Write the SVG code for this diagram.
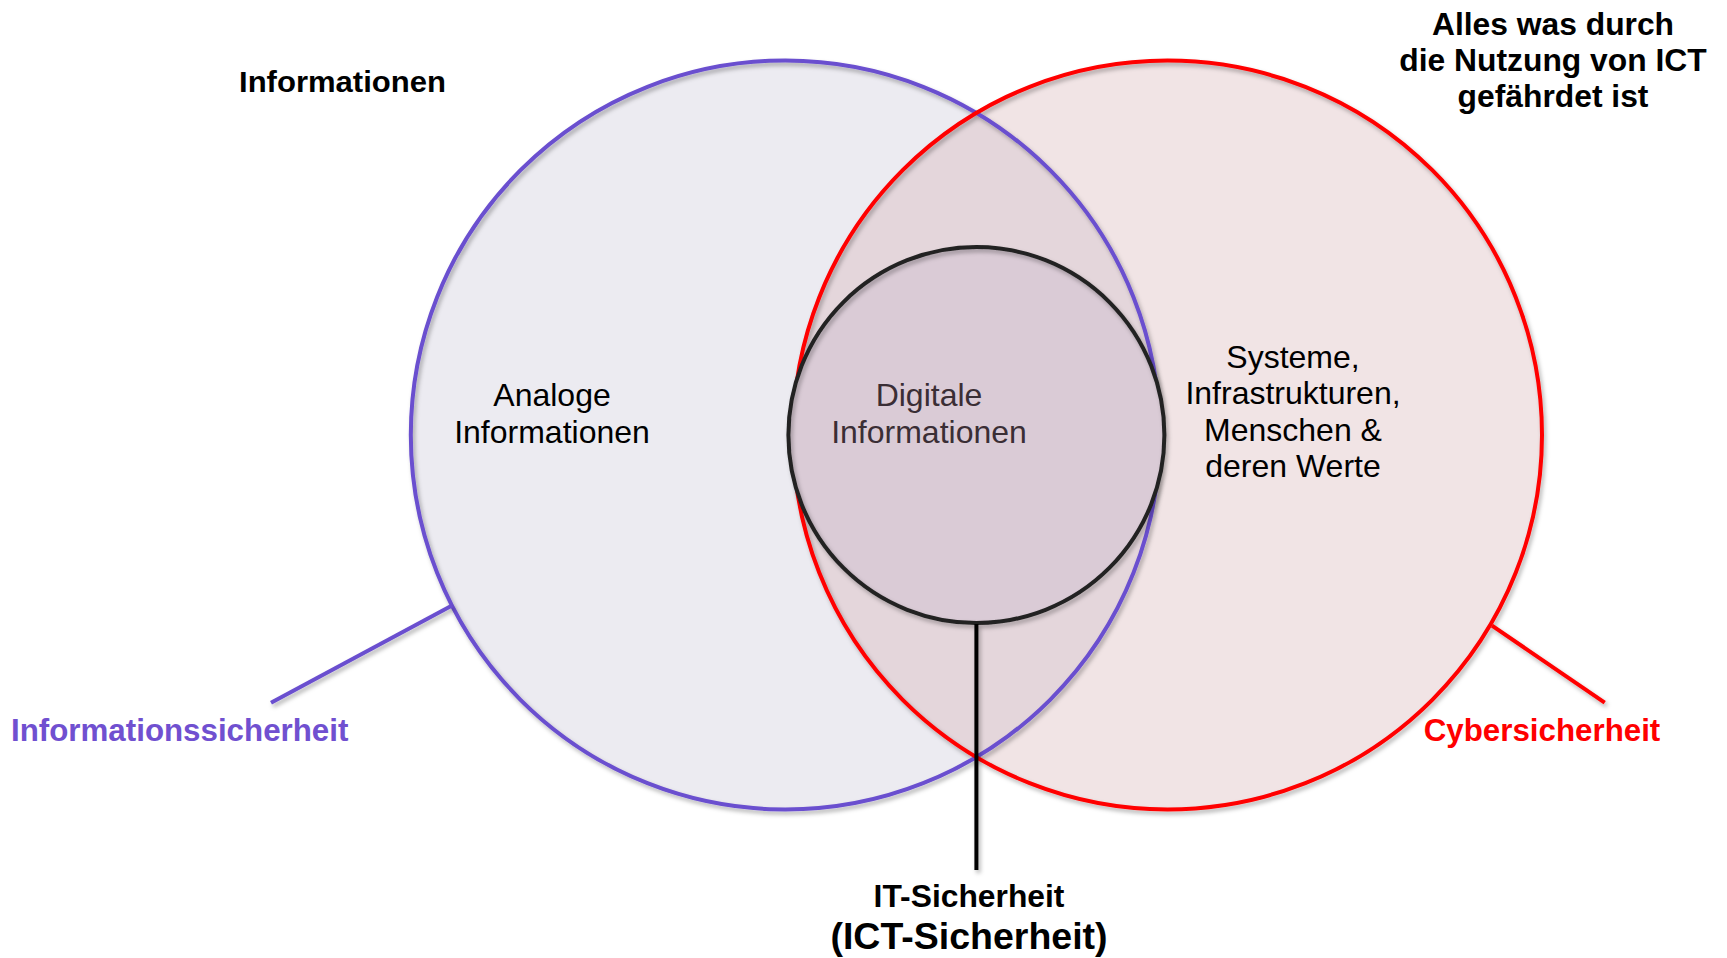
<svg xmlns="http://www.w3.org/2000/svg" width="1727" height="958" viewBox="0 0 1727 958">
  <defs>
    <filter id="sh" x="-10%" y="-10%" width="120%" height="120%">
      <feDropShadow dx="2" dy="3" stdDeviation="2" flood-color="#000" flood-opacity="0.3"/>
    </filter>
  </defs>
  <style>
    text { font-family: "Liberation Sans", Arial, sans-serif; }
    .b { font-weight: bold; }
    .lbl { font-size: 32px; fill: #000; text-anchor: middle; }
    .hd { font-size: 31.8px; font-weight: bold; fill: #000; text-anchor: middle; }
    .circ { stroke-width: 4; fill: none; }
  </style>
  <rect width="1727" height="958" fill="#fff"/>

  <g id="informationssicherheit">
    <circle cx="785.3" cy="435" r="374.5" fill="#ecebf1"/>
  </g>
  <g id="cybersicherheit">
    <circle cx="1167.5" cy="435" r="374.5" fill="#d0a5a8" fill-opacity="0.3"/>
  </g>
  <g id="outlines" filter="url(#sh)">
    <circle cx="785.3" cy="435" r="374.5" stroke="#6a4fcf" class="circ"/>
    <circle cx="1167.5" cy="435" r="374.5" stroke="#ff0000" class="circ"/>
  </g>
  <g id="it-sicherheit">
    <circle cx="976.4" cy="435" r="188" fill="#dacbd6"/>
    <circle cx="976.4" cy="435" r="188" stroke="#222" class="circ" filter="url(#sh)"/>
  </g>

  <g id="connectors" stroke-width="4" stroke-linecap="butt" filter="url(#sh)">
    <line x1="451.6" y1="605.8" x2="271" y2="702.7" stroke="#6a4fcf"/>
    <line x1="1492" y1="625.6" x2="1604.7" y2="702.7" stroke="#ff0000"/>
    <line x1="976.4" y1="624" x2="976.4" y2="870" stroke="#000"/>
  </g>

  <g id="texts">
    <text x="342.5" y="92" class="b" font-size="30" text-anchor="middle" textLength="207" lengthAdjust="spacingAndGlyphs">Informationen</text>
    <text class="hd" x="1553" y="35">Alles was durch</text>
    <text class="hd" x="1553" y="71">die Nutzung von ICT</text>
    <text class="hd" x="1553" y="107">gefährdet ist</text>

    <text class="lbl" x="552" y="406">Analoge</text>
    <text class="lbl" x="552" y="443">Informationen</text>

    <text class="lbl" x="929" y="406" style="fill:#3a2e35">Digitale</text>
    <text class="lbl" x="929" y="443" style="fill:#3a2e35">Informationen</text>

    <text class="lbl" x="1293" y="368">Systeme,</text>
    <text class="lbl" x="1293" y="404">Infrastrukturen,</text>
    <text class="lbl" x="1293" y="441">Menschen &amp;</text>
    <text class="lbl" x="1293" y="477">deren Werte</text>

    <text class="b" x="11" y="741" font-size="31.3" fill="#7050d0">Informationssicherheit</text>
    <text class="b" x="1542" y="741" font-size="31.3" fill="#ff0000" text-anchor="middle">Cybersicherheit</text>

    <text class="hd" x="969" y="907">IT-Sicherheit</text>
    <text class="b" x="969" y="949" font-size="37.5" text-anchor="middle">(ICT-Sicherheit)</text>
  </g>
</svg>
